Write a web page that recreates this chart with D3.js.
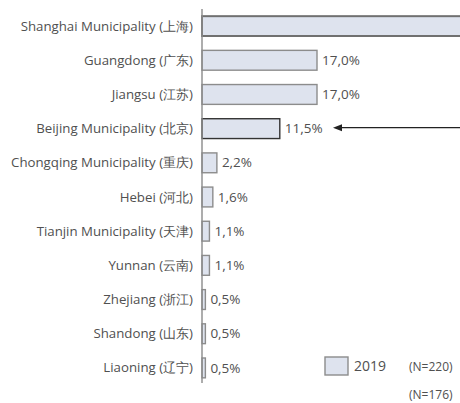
<!DOCTYPE html>
<html><head><meta charset="utf-8">
<script src="https://cdn.jsdelivr.net/npm/d3@7"></script>
<style>body{margin:0;background:#fff;}svg{display:block;}</style>
</head><body>
<svg id="c" width="460" height="403"></svg>
<script>
const categories = ["Shanghai Municipality (上海)","Guangdong (广东)","Jiangsu (江苏)","Beijing Municipality (北京)","Chongqing Municipality (重庆)","Hebei (河北)","Tianjin Municipality (天津)","Yunnan (云南)","Zhejiang (浙江)","Shandong (山东)","Liaoning (辽宁)"];
const values2019 = [47.0, 17.0, 17.0, 11.5, 2.2, 1.6, 1.1, 1.1, 0.5, 0.5, 0.5];
const valueLabels = ["47,0%","17,0%","17,0%","11,5%","2,2%","1,6%","1,1%","1,1%","0,5%","0,5%","0,5%"];
const seriesName = "2019";
const sampleNotes = ["(N=220)","(N=176)"];
const highlighted = "Beijing Municipality (北京)";

const W = 460, H = 403;
const svg = d3.select("#c");
const font = "'Open Sans', 'Noto Sans', sans-serif";
const x = d3.scaleLinear().domain([0, 17]).range([202, 317]);
const y = d3.scaleBand().domain(categories).range([9, 385]).paddingInner(0.42).paddingOuter(0.21);

svg.append("defs").append("clipPath").attr("id","clip")
  .append("rect").attr("x",0).attr("y",0).attr("width",W).attr("height",H);
const g = svg.append("g").attr("clip-path","url(#clip)");

g.selectAll("rect.bar").data(categories).join("rect")
  .attr("class","bar")
  .attr("x", x(0))
  .attr("y", d => y(d))
  .attr("width", (d,i) => x(values2019[i]) - x(0))
  .attr("height", y.bandwidth())
  .attr("fill", "#dee3ee")
  .attr("stroke", (d,i) => d === highlighted ? "#333" : (i === 0 ? "#707070" : "#8c8c8c"))
  .attr("stroke-width", (d,i) => i === 0 ? 2 : 1.4);

// axis line
g.append("line").attr("x1", x(0)).attr("x2", x(0)).attr("y1", 9).attr("y2", 383)
  .attr("stroke", "#8a8a8a").attr("stroke-width", 1.4);

// category labels
const cats = g.selectAll("text.cat").data(categories).join("text")
  .attr("class","cat")
  .attr("x", 193)
  .attr("y", d => y(d) + y.bandwidth()/2 + 1)
  .attr("text-anchor","end")
  .attr("dominant-baseline","middle")
  .attr("font-family", font).attr("font-size", 11).attr("fill","#505050")
  .text(d => d);
// fit the first label width to the reference (~173px for Shanghai)
const w0 = cats.filter((d,i)=>i===0).node().getComputedTextLength();
cats.attr("font-size", Math.min(11 * 173 / w0, 13.5));

// value labels (only those that fall inside the picture)
g.selectAll("text.val").data(categories.filter((d,i)=>x(values2019[i]) + 45 < W)).join("text")
  .attr("class","val")
  .attr("x", d => x(values2019[categories.indexOf(d)]) + 5)
  .attr("y", d => y(d) + y.bandwidth()/2 + 1)
  .attr("dominant-baseline","middle")
  .attr("font-family", font).attr("font-size", 13.5).attr("fill","#505050")
  .text(d => valueLabels[categories.indexOf(d)]);

// arrow pointing at highlighted
const ay = y(highlighted) + y.bandwidth()/2 - 1;
g.append("line").attr("x1", W).attr("x2", 340).attr("y1", ay).attr("y2", ay)
  .attr("stroke","#222").attr("stroke-width",1.2);
g.append("path").attr("d", `M333,${ay} L342,${ay-3.5} L342,${ay+3.5} Z`).attr("fill","#222");

// legend
g.append("rect").attr("x",325).attr("y",357).attr("width",23).attr("height",18)
  .attr("fill","#dee3ee").attr("stroke","#8c8c8c").attr("stroke-width",1.4);
g.append("text").attr("x",354).attr("y",367).attr("dominant-baseline","middle")
  .attr("font-family",font).attr("font-size",14).attr("fill","#505050").text(seriesName);
g.append("text").attr("x",409).attr("y",368).attr("dominant-baseline","middle")
  .attr("font-family",font).attr("font-size",12).attr("fill","#505050").text(sampleNotes[0]);
g.append("text").attr("x",409).attr("y",396).attr("dominant-baseline","middle")
  .attr("font-family",font).attr("font-size",12).attr("fill","#505050").text(sampleNotes[1]);
</script>
</body></html>
